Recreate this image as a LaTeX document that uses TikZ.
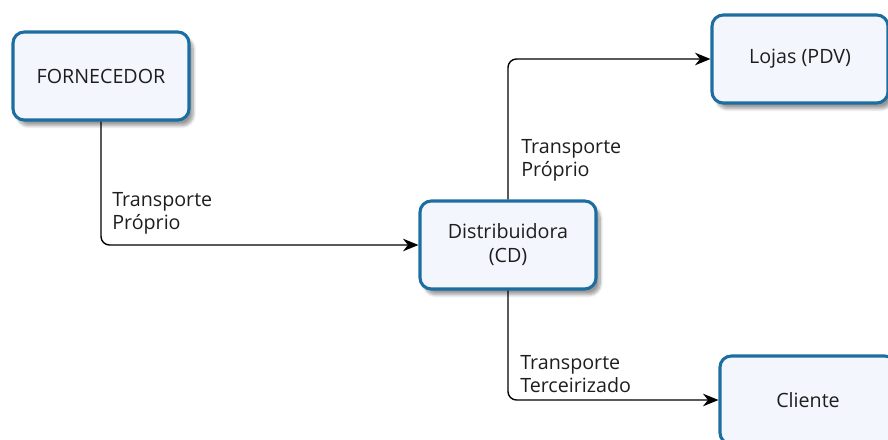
\documentclass[tikz,border=0pt]{standalone}
\usepackage{fontspec}
\setmainfont{Open Sans}
\usetikzlibrary{arrows.meta,shadows.blur}
\definecolor{boxblue}{RGB}{28,110,160}
\definecolor{boxfill}{RGB}{243,246,253}
\definecolor{txtgray}{RGB}{30,30,30}
\begin{document}
\begin{tikzpicture}[x=0.025cm,y=-0.025cm,
  box/.style={draw=boxblue,line width=2.2pt,rounded corners=8pt,fill=boxfill,
    minimum width=4.4cm,minimum height=2.2cm,align=center,text=txtgray,
    font=\fontsize{14}{17}\selectfont,
    blur shadow={shadow xshift=3pt,shadow yshift=-4pt,shadow blur steps=8,shadow opacity=40}},
  lbl/.style={anchor=north west,align=left,inner sep=0pt,text=txtgray,
    font=\fontsize{14}{16.5}\selectfont},
  conn/.style={line width=1pt,rounded corners=6pt,-{Stealth[length=11pt,width=9pt]}}]

  \useasboundingbox (0,0) rectangle (888,440);

  \node (forn) at (101, 76) [box] {FORNECEDOR};
  \node (cd) at (508, 245) [box] {Distribuidora\\(CD)};
  \node (lojas) at (800, 59) [box] {Lojas (PDV)};
  \node (cli) at (808, 400) [box] {Cliente};

  \draw[conn] (forn.south) |- (cd.west);
  \draw[conn] (cd.north) |- (lojas.west);
  \draw[conn] (cd.south) |- (cli.west);

  \node (tp1) at (112, 192) [lbl] {Transporte\\Próprio};
  \node (tp2) at (521, 139) [lbl] {Transporte\\Próprio};
  \node (tt) at (520, 355) [lbl] {Transporte\\Terceirizado};

\end{tikzpicture}
\end{document}
